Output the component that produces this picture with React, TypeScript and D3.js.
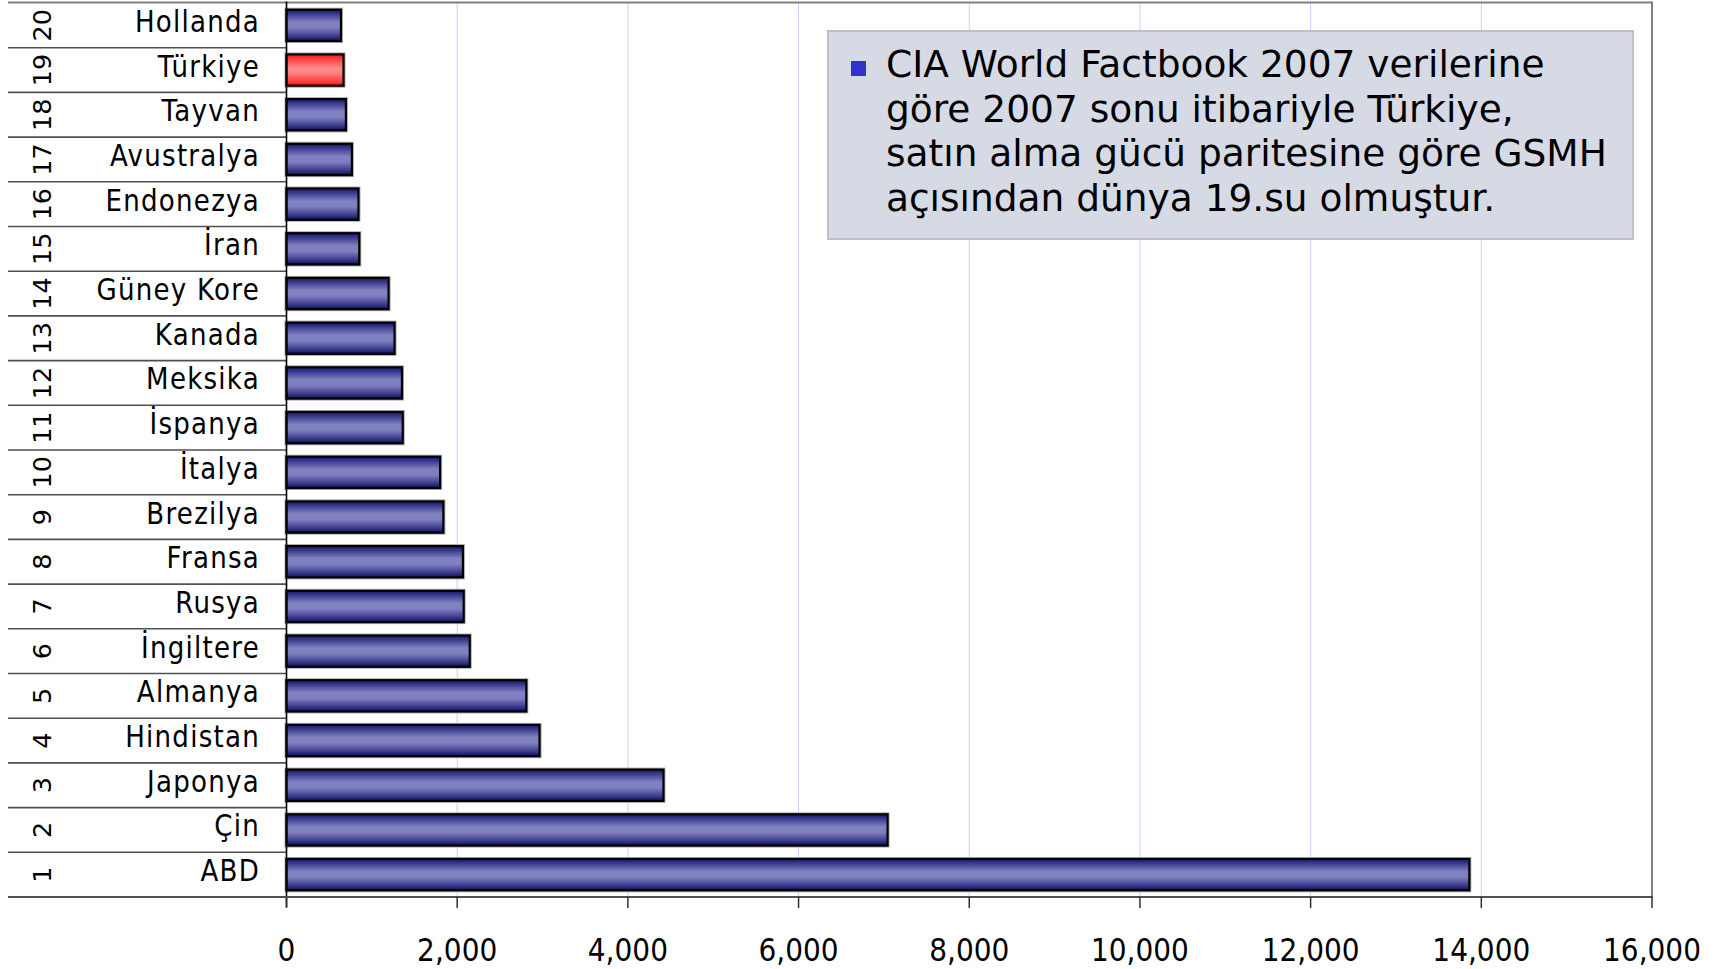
import React from "react";
import * as d3 from "d3";

// GSMH (satın alma gücü paritesi), milyar $ — sıralama 1..20
const countries = [
  "ABD", "Çin", "Japonya", "Hindistan", "Almanya", "İngiltere", "Rusya", "Fransa",
  "Brezilya", "İtalya", "İspanya", "Meksika", "Kanada", "Güney Kore", "İran",
  "Endonezya", "Avustralya", "Tayvan", "Türkiye", "Hollanda",
];
const gdpPPP = [
  13860, 7043, 4417, 2965, 2810, 2147, 2076, 2067,
  1838, 1800, 1362, 1353, 1266, 1196, 853,
  843, 766, 696, 668, 638,
];
const ranks = countries.map((_, i) => i + 1);
const highlighted = "Türkiye";
const xTicks = [0, 2000, 4000, 6000, 8000, 10000, 12000, 14000, 16000];
const noteLines = [
  "CIA World Factbook 2007 verilerine",
  "göre 2007 sonu itibariyle Türkiye,",
  "satın alma gücü paritesine göre GSMH",
  "açısından dünya 19.su olmuştur.",
];

const W = 1721;
const H = 969;
const FONT = "'DejaVu Sans', Verdana, sans-serif";

export default function App() {
  const left = 286.5;
  const right = 1652;
  const top = 3;
  const bottom = 897;
  const tableLeft = 8;

  const x = d3.scaleLinear().domain([0, 16000]).range([left, right]);
  // rank 20 at the top, rank 1 at the bottom
  const y = d3
    .scaleBand<number>()
    .domain([...ranks].reverse())
    .range([top, bottom])
    .padding(0);
  const bw = y.bandwidth();
  const barH = bw * 0.7;
  const fmt = d3.format(",");

  const boxX = 828;
  const boxY = 31;
  const boxW = 805;
  const boxH = 208;

  return (
    <svg
      width={W}
      height={H}
      viewBox={`0 0 ${W} ${H}`}
      style={{ position: "absolute", left: 0, top: 0, background: "#fff" }}
      fontFamily={FONT}
    >
      <defs>
        <linearGradient id="barBlue" x1="0" y1="0" x2="0" y2="1">
          <stop offset="0%" stopColor="#17176a" />
          <stop offset="12%" stopColor="#35358a" />
          <stop offset="40%" stopColor="#8282c2" />
          <stop offset="58%" stopColor="#8080c0" />
          <stop offset="85%" stopColor="#3a3a8c" />
          <stop offset="100%" stopColor="#0e0e58" />
        </linearGradient>
        <linearGradient id="barRed" x1="0" y1="0" x2="0" y2="1">
          <stop offset="0%" stopColor="#ee1515" />
          <stop offset="15%" stopColor="#ff4040" />
          <stop offset="45%" stopColor="#ff8c8c" />
          <stop offset="60%" stopColor="#ff8080" />
          <stop offset="88%" stopColor="#ff3a3a" />
          <stop offset="100%" stopColor="#e81010" />
        </linearGradient>
      </defs>

      {/* vertical gridlines */}
      {xTicks.slice(1, -1).map((t) => (
        <line key={`g${t}`} x1={x(t)} x2={x(t)} y1={top} y2={bottom} stroke="#ccccff" strokeWidth={1} />
      ))}

      {/* plot frame: top and right */}
      <line x1={tableLeft} x2={right} y1={top - 0.5} y2={top - 0.5} stroke="#808080" strokeWidth={2} />
      <line x1={right} x2={right} y1={top - 1.5} y2={bottom} stroke="#808080" strokeWidth={2} />

      {/* row separators in the label table */}
      {ranks.map((r) => (
        <line
          key={`s${r}`}
          x1={tableLeft}
          x2={left}
          y1={(y(r) ?? 0) + bw}
          y2={(y(r) ?? 0) + bw}
          stroke="#505050"
          strokeWidth={1.6}
        />
      ))}

      {/* rank numbers and country names */}
      {countries.map((c, i) => {
        const r = ranks[i];
        const cy = (y(r) ?? 0) + bw / 2;
        return (
          <g key={`l${c}`}>
            <text
              transform={`translate(42,${cy}) rotate(-90)`}
              textAnchor="middle"
              dominantBaseline="central"
              fontSize={25.5}
              fill="#000"
            >
              {r}
            </text>
            <g transform={`translate(260,${cy + 6.5}) scale(0.95,1.08)`}>
              <text x={0} y={0} textAnchor="end" fontSize={27.5} letterSpacing={1.3} fill="#000">
                {c}
              </text>
            </g>
          </g>
        );
      })}

      {/* bars */}
      {countries.map((c, i) => {
        const r = ranks[i];
        const by = (y(r) ?? 0) + (bw - barH) / 2;
        const bx = x(0);
        const w = x(gdpPPP[i]) - x(0);
        return (
          <g key={`b${c}`}>
            <rect x={bx} y={by} width={w} height={barH} fill="none" stroke="#a8a8a8" strokeWidth={4} />
            <rect
              x={bx}
              y={by}
              width={w}
              height={barH}
              fill={c === highlighted ? "url(#barRed)" : "url(#barBlue)"}
              stroke="#000"
              strokeWidth={2.2}
            />
          </g>
        );
      })}

      {/* y axis line */}
      <line x1={left} x2={left} y1={top - 1.5} y2={bottom + 10} stroke="#000" strokeWidth={1.6} />

      {/* x axis */}
      <line x1={tableLeft} x2={right + 1} y1={bottom} y2={bottom} stroke="#505050" strokeWidth={2} />
      {xTicks.map((t) => (
        <g key={`t${t}`}>
          <line x1={x(t)} x2={x(t)} y1={bottom} y2={bottom + 11} stroke="#303030" strokeWidth={1.5} />
          <g transform={`translate(${x(t)},961) scale(1,1.12)`}>
            <text x={0} y={0} textAnchor="middle" fontSize={28} fill="#000">
              {fmt(t)}
            </text>
          </g>
        </g>
      ))}

      {/* note box */}
      <rect x={boxX} y={boxY} width={boxW} height={boxH} fill="#d6dae5" stroke="#bfbfc4" strokeWidth={2} />
      <rect x={851} y={61} width={15} height={15} fill="#3333cc" />
      {noteLines.map((line, i) => (
        <text key={`n${i}`} x={886} y={77 + i * 44.5} fontSize={37.5} fill="#000">
          {line}
        </text>
      ))}
    </svg>
  );
}
